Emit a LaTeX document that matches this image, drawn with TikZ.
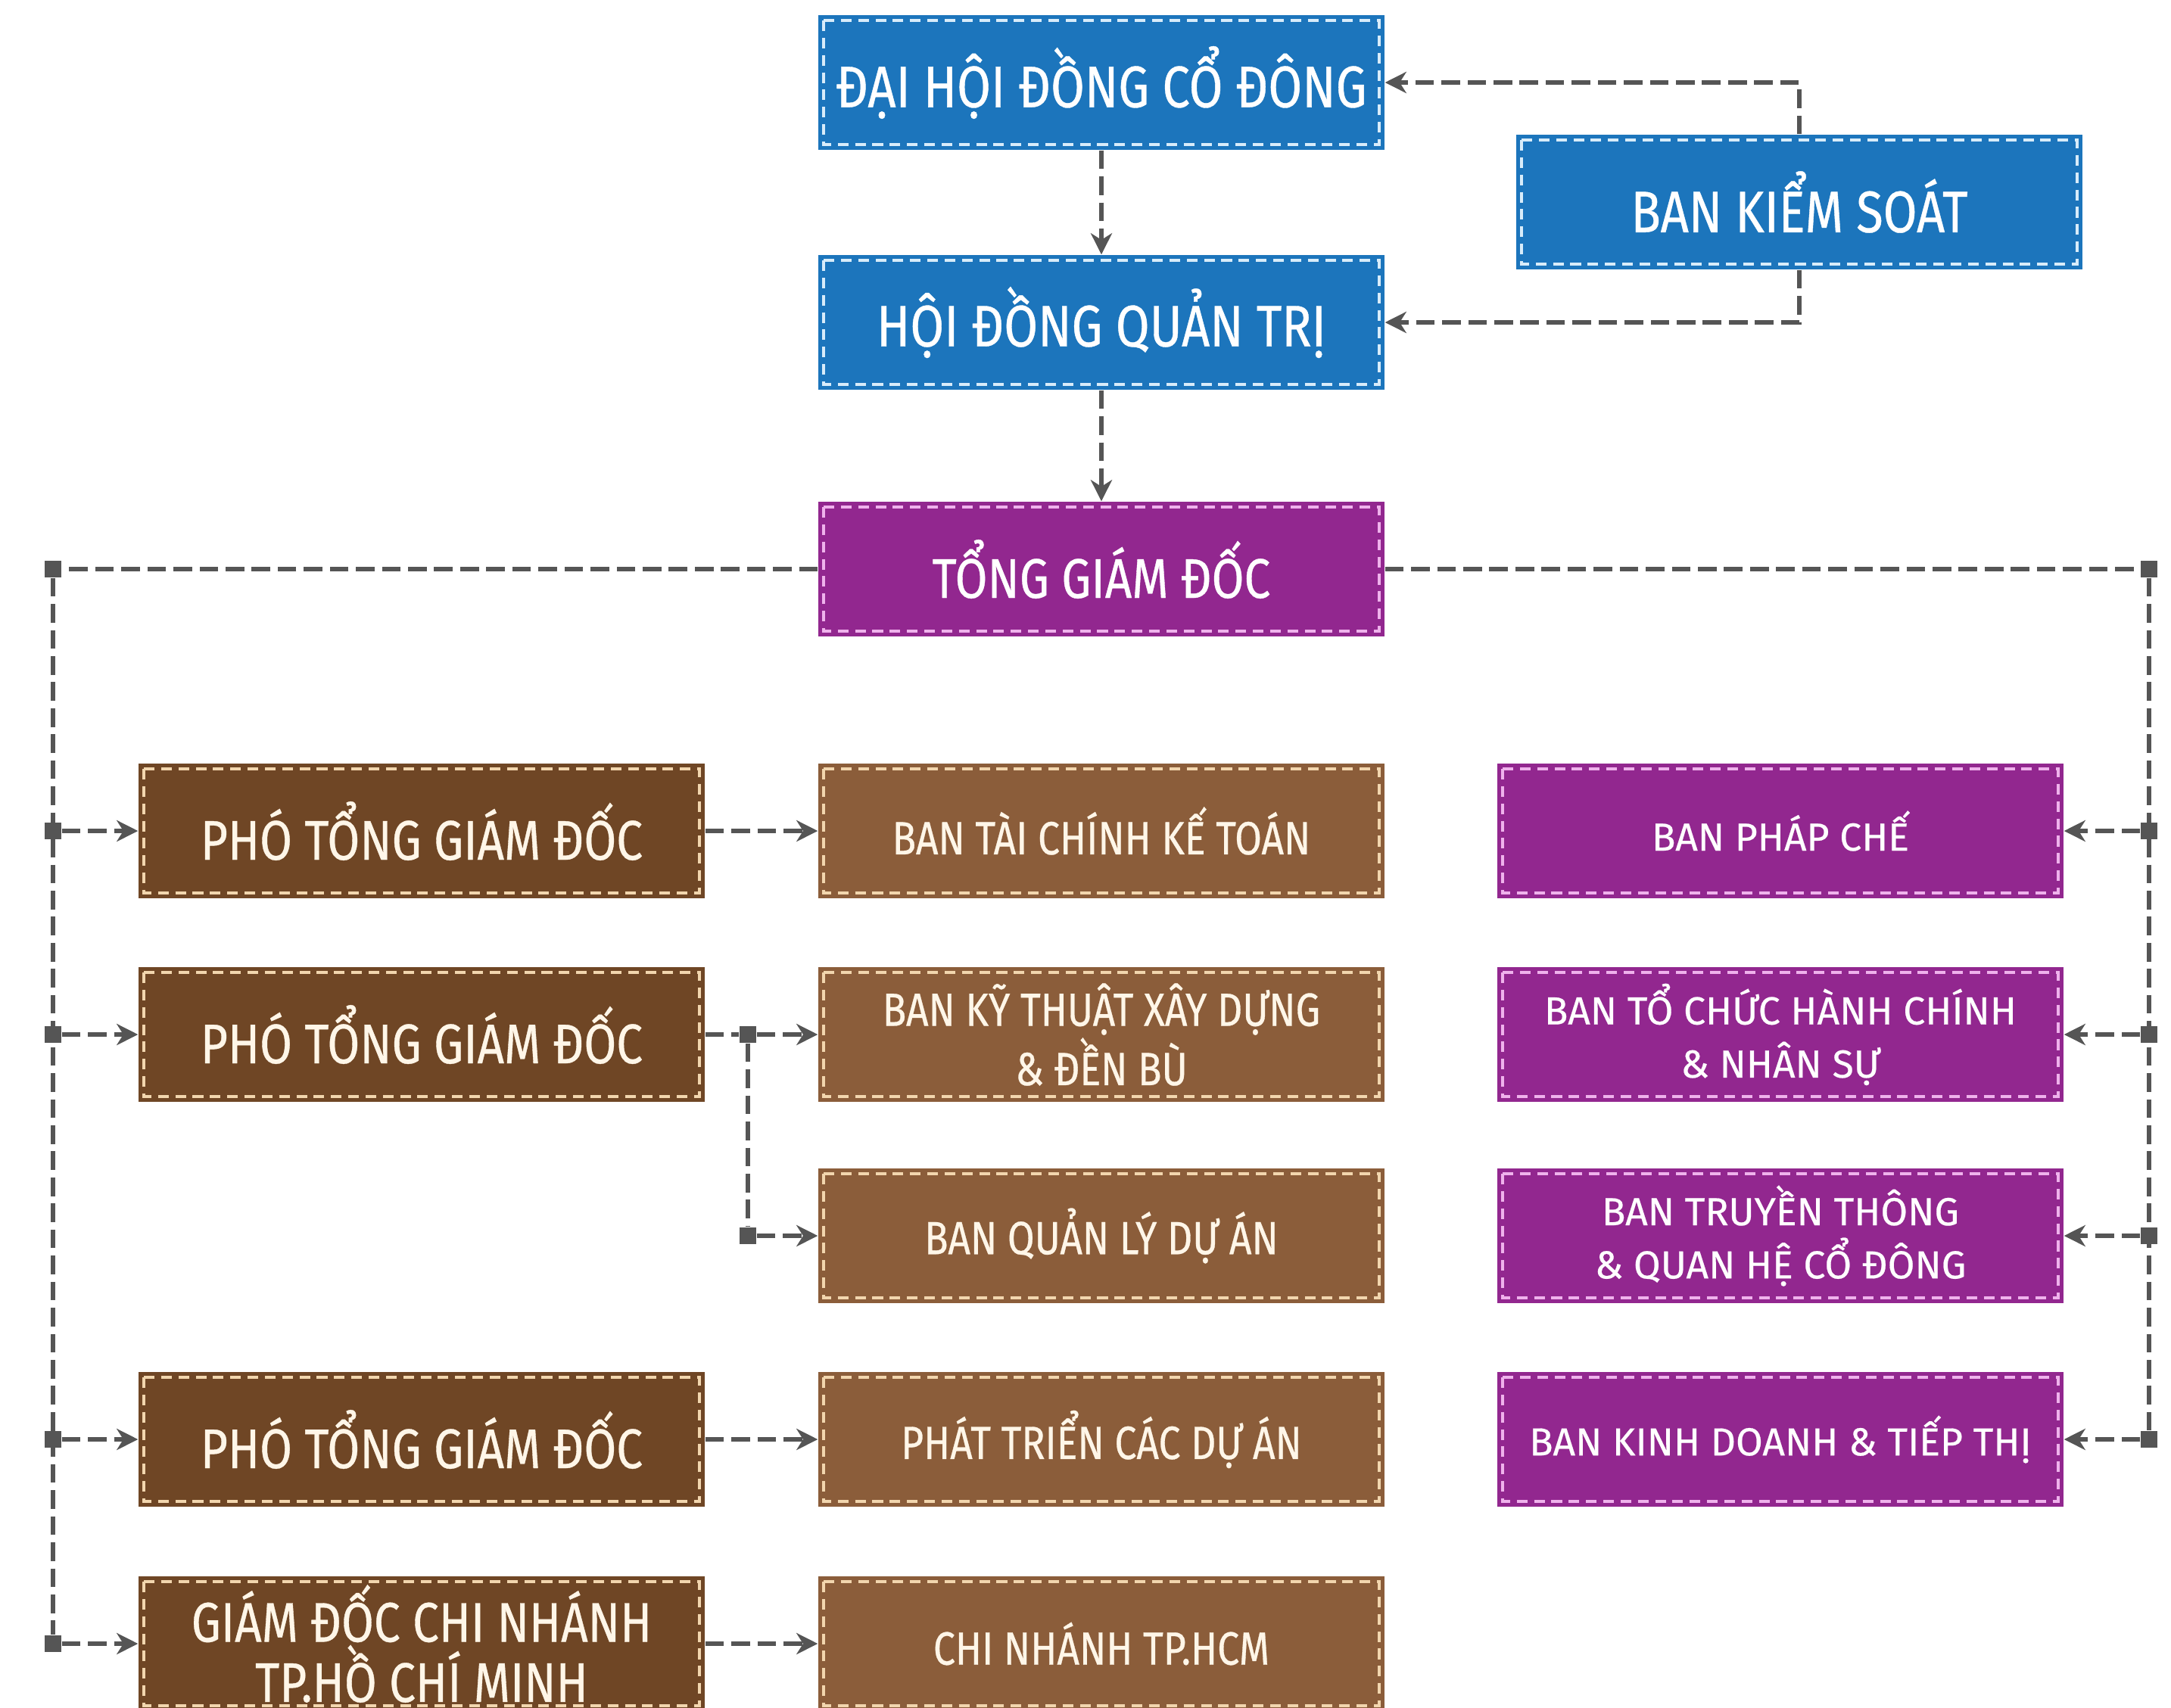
\documentclass[tikz,border=0pt]{standalone}
\usepackage{fontspec}
\setmainfont{Fira Sans}[FakeBold=0.4]
\newfontfamily\narrowfont[FakeStretch=0.84, FakeBold=0.5]{Fira Sans}
\usetikzlibrary{arrows.meta}

\definecolor{boardblue}{HTML}{1C75BC}
\definecolor{chiefpurple}{HTML}{92278F}
\definecolor{deputybrown}{HTML}{6F4625}
\definecolor{deptbrown}{HTML}{8B5D3A}
\definecolor{linkgray}{HTML}{555555}
\definecolor{cream}{HTML}{FFF6E8}
\definecolor{stitchtan}{HTML}{F2D6AE}
\definecolor{stitchpink}{HTML}{EFB2EC}
\definecolor{stitchblue}{HTML}{D8ECFA}

\begin{document}
\begin{tikzpicture}[
    x=1cm,y=1cm,
    every node/.style={font=\narrowfont\fontsize{21}{20}\selectfont},
    unit/.style={rectangle, minimum width=7.48cm, minimum height=1.78cm, inner sep=0pt, align=center},
    seam/.style={path picture={\draw[#1, line width=0.9pt, dash pattern=on 4pt off 2.5pt]
        ([shift={(0.07,-0.07)}]path picture bounding box.north west) rectangle
        ([shift={(-0.07,0.07)}]path picture bounding box.south east);}},
    board/.style={unit, fill=boardblue, text=white, seam=stitchblue,
        font=\narrowfont\fontsize{22}{24}\selectfont},
    chief/.style={unit, fill=chiefpurple, text=white, seam=stitchpink},
    deputy/.style={unit, fill=deputybrown, text=cream, seam=stitchtan},
    dept/.style={unit, fill=deptbrown, text=cream, seam=stitchtan,
        font=\narrowfont\fontsize{17.5}{20}\selectfont},
    staff/.style={unit, fill=chiefpurple, text=white, seam=stitchpink,
        font=\fontsize{14.7}{20}\selectfont},
    link/.style={draw=linkgray, line width=1.7pt, dash pattern=on 7pt off 2.8pt},
    arr/.style={link, -{Stealth[length=8pt, width=8pt, inset=2.5pt]}},
    dot/.style={rectangle, fill=linkgray, minimum size=0.22cm, inner sep=0pt}
]
    \useasboundingbox (0,0) rectangle (28.68,-22.56);

    % governing bodies
    \node[board] (dhd)  at (14.55,-1.09) {ĐẠI HỘI ĐỒNG CỔ ĐÔNG};
    \node[board] (bks)  at (23.77,-2.67) {BAN KIỂM SOÁT};
    \node[board] (hdqt) at (14.55,-4.26) {HỘI ĐỒNG QUẢN TRỊ};
    \node[chief] (tgd)  at (14.55,-7.52) {TỔNG GIÁM ĐỐC};

    % deputies
    \node[deputy] (pho1) at (5.57,-10.98) {PHÓ TỔNG GIÁM ĐỐC};
    \node[deputy] (pho2) at (5.57,-13.67) {PHÓ TỔNG GIÁM ĐỐC};
    \node[deputy] (pho3) at (5.57,-19.02) {PHÓ TỔNG GIÁM ĐỐC};
    \node[deputy] (gdcn) at (5.57,-21.72) {GIÁM ĐỐC CHI NHÁNH\\TP.HỒ CHÍ MINH};

    % departments under deputies
    \node[dept] (tckt) at (14.55,-10.98) {BAN TÀI CHÍNH KẾ TOÁN};
    \node[dept] (ktxd) at (14.55,-13.67) {BAN KỸ THUẬT XÂY DỰNG\\\& ĐỀN BÙ};
    \node[dept] (qlda) at (14.55,-16.33) {BAN QUẢN LÝ DỰ ÁN};
    \node[dept] (ptda) at (14.55,-19.02) {PHÁT TRIỂN CÁC DỰ ÁN};
    \node[dept] (cnhcm) at (14.55,-21.72) {CHI NHÁNH TP.HCM};

    % departments under the CEO
    \node[staff] (phch) at (23.52,-10.98) {BAN PHÁP CHẾ};
    \node[staff] (tchc) at (23.52,-13.67) {BAN TỔ CHỨC HÀNH CHÍNH\\\& NHÂN SỰ};
    \node[staff] (ttqh) at (23.52,-16.33) {BAN TRUYỀN THÔNG\\\& QUAN HỆ CỔ ĐÔNG};
    \node[staff] (kdtt) at (23.52,-19.02) {BAN KINH DOANH \& TIẾP THỊ};

    % bus junctions
    \node[dot] (jtl) at (0.70,-7.52) {};
    \node[dot] (jtr) at (28.39,-7.52) {};
    \foreach \b/\n in {pho1/1,pho2/2,pho3/3,gdcn/4} {
        \node[dot] (jl\n) at (\b.west -| jtl) {};
    }
    \foreach \b/\n in {phch/1,tchc/2,ttqh/3,kdtt/4} {
        \node[dot] (jr\n) at (\b.east -| jtr) {};
    }
    \node[dot] (jm1) at (9.88,-13.67) {};
    \node[dot] (jm2) at (9.88,-16.33) {};

    % top of the chart
    \draw[arr] (dhd) -- (hdqt);
    \draw[arr] (hdqt) -- (tgd);
    \draw[arr] (bks.north) |- (dhd.east);
    \draw[arr] (bks.south) |- (hdqt.east);

    % buses
    \draw[link] (tgd.west) -- (jtl) -- (jl4);
    \draw[link] (tgd.east) -- (jtr) -- (jr4);
    \foreach \b/\n in {pho1/1,pho2/2,pho3/3,gdcn/4} {
        \draw[arr] (jl\n) -- (\b.west);
    }
    \foreach \b/\n in {phch/1,tchc/2,ttqh/3,kdtt/4} {
        \draw[arr] (jr\n) -- (\b.east);
    }

    % deputies to departments
    \draw[arr] (pho1) -- (tckt);
    \draw[link] (pho2.east) -- (jm1);
    \draw[arr] (jm1) -- (ktxd.west);
    \draw[link] (jm1) -- (jm2);
    \draw[arr] (jm2) -- (qlda.west);
    \draw[arr] (pho3) -- (ptda);
    \draw[arr] (gdcn) -- (cnhcm);
\end{tikzpicture}
\end{document}
